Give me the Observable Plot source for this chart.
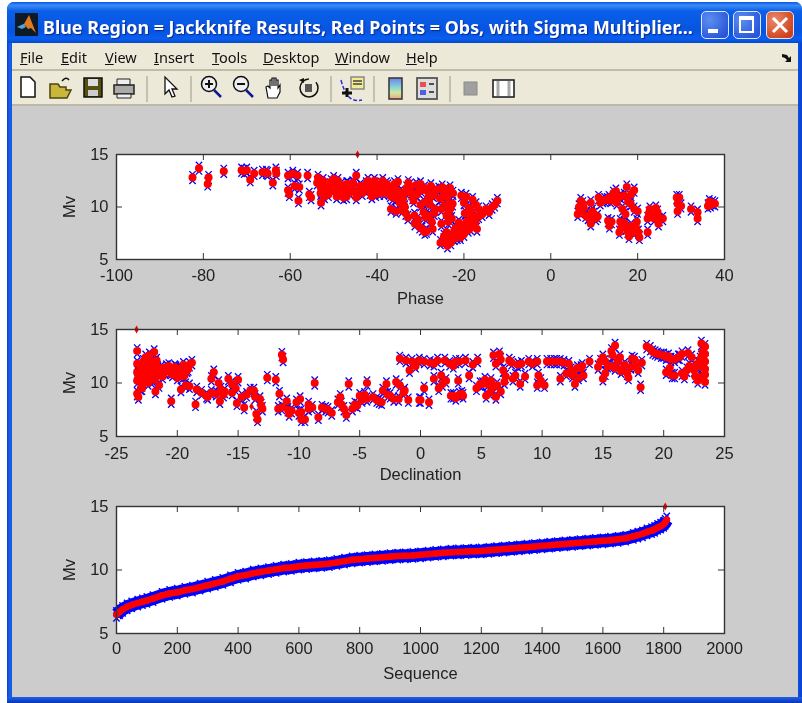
<!DOCTYPE html>
<html><head><meta charset="utf-8">
<script src="https://cdn.jsdelivr.net/npm/d3@7"></script>
<script src="https://cdn.jsdelivr.net/npm/@observablehq/plot@0.6"></script>
<style>
html,body{margin:0;padding:0;background:#fff;overflow:hidden}
#win{position:absolute;left:0;top:0;width:802px;height:703px;overflow:hidden;filter:blur(.35px)}
.a{position:absolute}
#frame{left:7px;top:2px;width:795px;height:701px;background:linear-gradient(90deg,#0a3fd0 0,#1c62ea 3px,#0d55e0 5px,#0d55e0 790px,#0a3fd0 795px);border-radius:7px 7px 0 0}
#titlebar{left:7px;top:2px;width:795px;height:41px;border-radius:7px 7px 0 0;background:linear-gradient(180deg,#0a58e6 0,#3a8cf6 8%,#0a5fe8 22%,#0654e0 70%,#0a5ef0 90%,#0448c8 100%)}
#title{left:43px;top:14px;font:700 17.9px/26px "Noto Sans",sans-serif;color:#fff;white-space:nowrap;text-shadow:1px 1px 1px #0a2a90}
#menu{left:12px;top:43px;width:786px;height:28px;background:#ece9d8;border-bottom:2px solid #c0bcaa;box-sizing:border-box}
#tools{left:12px;top:71px;width:786px;height:35px;background:#ece9d8;border-bottom:2px solid #bdb9a8;box-sizing:border-box}
#fig{left:12px;top:106px;width:786px;height:591px;background:#cccccc}
#bottom{left:7px;top:697px;width:795px;height:6px;background:linear-gradient(180deg,#1c62ea,#0a34b0)}
.m{position:absolute;top:46px;font:14.5px/22px "Noto Sans",sans-serif;color:#111}
.btn{position:absolute;top:11px;width:28px;height:28px;border:1px solid #dfe8fb;border-radius:5px;box-sizing:border-box;background:radial-gradient(circle at 30% 30%,#5b8ff0,#2a55d8 80%)}
.sep{position:absolute;top:76px;width:2px;height:26px;background:#c5c1b0}
.ic{position:absolute;top:72px}
.panel{position:absolute;left:60px;overflow:visible}
</style></head><body>
<div id="win">
<div class="a" id="frame"></div><div class="a" id="titlebar"></div>
<svg class="a" style="left:15px;top:13px" width="23" height="23" viewBox="0 0 23 23"><rect width="23" height="23" fill="#0c1a2a"/><path d="M2 14l7-3 5-9 7 18-5-5-3 1-3-4z" fill="#e07a20"/><path d="M2 14l7-3 2 3-4 2z" fill="#4aa8d8"/></svg>
<div class="a" id="title">Blue Region = Jackknife Results, Red Points = Obs, with Sigma Multiplier...</div>
<div class="btn" style="left:701px"><div class="a" style="left:6px;top:17px;width:10px;height:4px;background:#fff"></div></div>
<div class="btn" style="left:733px"><div class="a" style="left:5px;top:4px;width:15px;height:17px;border:2px solid #fff;border-top-width:4px;box-sizing:border-box"></div></div>
<div class="btn" style="left:766px;background:radial-gradient(circle at 30% 30%,#e88a6a,#d0401a 80%)"><svg class="a" style="left:4px;top:4px" width="18" height="18"><path d="M2 2L16 16M16 2L2 16" stroke="#fff" stroke-width="3"/></svg></div>
<div class="a" id="menu"></div><div class="a" id="tools"></div><div class="a" id="fig"></div><div class="a" id="bottom"></div>
<div class="m" style="left:20px"><u>F</u>ile</div><div class="m" style="left:61px"><u>E</u>dit</div><div class="m" style="left:105px"><u>V</u>iew</div><div class="m" style="left:154px"><u>I</u>nsert</div><div class="m" style="left:212px"><u>T</u>ools</div><div class="m" style="left:263px"><u>D</u>esktop</div><div class="m" style="left:335px"><u>W</u>indow</div><div class="m" style="left:406px"><u>H</u>elp</div>
<svg class="a" style="left:781px;top:52px" width="12" height="11"><path d="M1 2l5 1 2 3 2-2v6H4l2-2-2-2-3-1z" fill="#111"/></svg>
<div class="sep" style="left:146px"></div><div class="sep" style="left:190px"></div><div class="sep" style="left:330px"></div><div class="sep" style="left:373px"></div><div class="sep" style="left:449px"></div>
<svg class="ic" style="left:0;top:70px" width="530" height="34">
<path d="M21 7h9l5 5v15H21z" fill="#fff" stroke="#111" stroke-width="1.5"/>
<path d="M50 14h8l2 3h6v3h5l-4 8H50z" fill="#c9b63a" stroke="#4a4410" stroke-width="1.5"/><path d="M62 11q4-5 7-1" fill="none" stroke="#111" stroke-width="1.5"/>
<rect x="84" y="8" width="18" height="19" fill="#55500f" stroke="#111" stroke-width="1.5"/><rect x="88" y="9" width="10" height="7" fill="#ddd"/><rect x="88" y="20" width="10" height="6" fill="#ccc"/>
<path d="M117 9h13v6h-13z" fill="#eee" stroke="#222"/><path d="M114 15h20v9h-20z" fill="#aaa" stroke="#222" stroke-width="1.5"/><path d="M117 24h14v4h-14z" fill="#eee" stroke="#222"/>
<path d="M165 7v17l4-4 3 7 3-1-3-7h5z" fill="#fff" stroke="#111" stroke-width="1.3"/>
<circle cx="209" cy="14" r="7.5" fill="#eee" stroke="#111" stroke-width="1.5"/><path d="M205 14h8M209 10v8" stroke="#111" stroke-width="2"/><path d="M214 20l7 7" stroke="#0a1a90" stroke-width="2.5"/>
<circle cx="241" cy="14" r="7.5" fill="#eee" stroke="#111" stroke-width="1.5"/><path d="M237 14h8" stroke="#111" stroke-width="2"/><path d="M246 20l7 7" stroke="#0a1a90" stroke-width="2.5"/>
<path d="M266 17l2-1 2 2v-8h2v6-8h2v8-8h2v8-6h2v8l2-3v7l-3 6h-9z" fill="#fff" stroke="#111" stroke-width="1.2"/>
<circle cx="309" cy="18" r="9" fill="none" stroke="#111" stroke-width="1.5" stroke-dasharray="42 8"/><rect x="305" y="14" width="7" height="8" fill="#555"/><path d="M299 10l5-2v5z" fill="#111"/>
<rect x="351" y="7" width="13" height="12" fill="#f2eb90" stroke="#888" stroke-width="1.5"/><path d="M353 11h9M353 14h9" stroke="#444" stroke-width="1.3"/>
<path d="M341 10q3 12 8 17t13 3" fill="none" stroke="#2a2ae0" stroke-width="1.5" stroke-dasharray="4 2"/><path d="M347 18v9M342 23h10" stroke="#111" stroke-width="3"/>
<defs><linearGradient id="cb" x1="0" y1="0" x2="0" y2="1"><stop offset="0" stop-color="#7080e8"/><stop offset=".4" stop-color="#80d0d8"/><stop offset=".7" stop-color="#d0e8a0"/><stop offset="1" stop-color="#f0a080"/></linearGradient></defs>
<rect x="389" y="8" width="13" height="21" fill="url(#cb)" stroke="#333" stroke-width="1.5"/>
<rect x="417" y="8" width="20" height="21" fill="#ddd" stroke="#555" stroke-width="1.8"/><rect x="420" y="12" width="6" height="5" fill="#e85050"/><rect x="420" y="20" width="6" height="5" fill="#5060e0"/><path d="M429 14h5M429 22h5" stroke="#222" stroke-width="1.5"/>
<rect x="464" y="12" width="13" height="13" fill="#a0a0a0" stroke="#8a8a8a"/>
<rect x="493" y="10" width="21" height="17" fill="#fff" stroke="#222" stroke-width="1.6"/><path d="M498 11v15M509 11v15" stroke="#aaa" stroke-width="3"/>
</svg>
<div id="p1" class="panel" style="top:140px"></div>
<div id="p2" class="panel" style="top:315px"></div>
<div id="p3" class="panel" style="top:492px"></div>
</div>
<script>
const phase = [
-82.5,-81,-78.8,-79,-75.3,-71.2,-70.6,-70,-69.2,-68.3,-66.4,-65.5,-65.2,-63.3,-63.2,-64,
-60.5,-59.4,-58.3,-56,-53.6,-60.5,-60.2,-59,-57.9,-58.1,-55.6,-55.2,-52.9,
-53.8,-52.8,-52.4,-52.1,-51.4,-51.2,-50.6,-50.2,-50,-49.3,-49,-48.8,-48.2,-47.7,-47.5,-46.8,-46.2,-46,-45.4,-44.8,-44.8,-44.2,-43.8,-43.4,-42.9,-42.5,-42.1,-41.6,-41,-40.6,-40.3,-39.8,-39.2,-38.7,-38.4,-38,-37.5,-37,-36.6,-36.4,-36.8,-36,-35.2,-35,-34.8,-34.3,-33.6,-33.2,-32.8,-32.5,-32.9,-32,-31.6,-31.3,-31,-30.4,-30.2,-30,-29.6,-29.3,-29,-28.6,-28.2,-28,-27.6,-27.2,-26.8,-30,-29,-28,-27.2,
-25.8,-25.5,-25,-25.2,-24.8,-24.2,-24,-23.5,-23.2,-23,-22.5,-22.6,-25.2,-25.4,-24.6,-23.8,-23,-22.2,-21.5,-20.8,-20,-19.3,-18.5,-17.8,-17,-17.4,-18.5,-19.4,-20,
-20.6,-20,-19.5,-18.8,-18,-17.2,-16.6,-19.8,-18.4,-17.5,-15.8,-14.9,-14.2,-13.5,-12.9,-12.3,
6.5,6.2,6.9,6.6,9.2,9.6,10.4,9.2,10,8.8,12,13,13.8,14.6,15.4,16.1,16.9,17.5,18.5,19.2,17.8,16.5,19.2,18.4,20,13.5,13.2,14,15.8,16.9,17.7,19.2,18.5,20.4,22.3,22.3,23.1,24.6,23.8,24.8,25.8,22.6,29.2,29.2,29,32.3,33.8,33.8,36.2,37.3,36.8,
-53,-53,-51.6,-50.8,-49.6,-48.4,-47,-47,-45.6,-45,-43.6,-42.6,-41.4,-41.2,-40,-39.4,-38.8,-37.8,-37.2,-36.2,-35.6,-35.4,-35.6,-34.6,-34,-33.8,-33.2,-33.4,-32.4,-31.8,-31.4,-30.8,-30.6,-29.8,-29.2,-28.8,-28.4,-27.8,-27.4,-27,-26.6,-26.5,
-24.4,-23.8,-23.4,-22.8,-24.6,-24,-24.2,-22.2,-21.6,-21,-20.4,-19.6,-19,-18.2,-17.4,-16.6,-23.6,-22.8,-21.9,-21.2,
8,7.4,7.6,10.8,9.4,8.6,11,11.4,12.4,13.4,14.4,15,15.2,16,17,17.4,19.6,18,16.2,17.2,20.2,19.8,23,22.8,24.2,25,29.6,30,36.5,37.8];
const phaseMv = [
12.8,13.7,12.8,12.2,13.4,13.5,13.4,13.5,12.6,13.2,13.3,13.3,13.2,13.5,13.2,12.3,
13,13.2,13,13,12.8,11.6,11.2,12,11.9,10.6,11.2,10.9,10.4,
12.3,11.6,12.5,11,12,11.2,12.4,11.6,12.7,11,12.5,11.7,12.1,10.9,11.6,12.2,11.4,11.9,12.2,13,10.9,11.5,12,11.3,11.7,12.2,12.5,11.4,12.1,12.5,11.2,11.8,12.2,12.5,11.3,11.6,12,11.1,11.7,10.9,9.8,12.2,12.4,11.2,10.4,9.7,10,11.8,12.3,12,9,11.3,10.6,8.4,12.1,11.5,8.1,10.2,7.9,9.5,11.8,7.7,10.9,9.2,12,11.2,9.4,12.2,7.6,10.6,7.9,
11.7,10.8,11.9,9.8,11,11.6,9.2,10.4,11.8,9.9,11.3,10.3,8.4,6.6,6.9,6.3,6.6,7,7.1,7.1,7.4,8,8,8.2,7.9,8.6,9,8.6,7.9,
11.1,10.4,11,9.9,10.7,10.2,9.8,9.4,9.6,9.1,9.3,9.8,9.5,10,10.2,10.6,
10,9.3,10.6,9.6,10.4,9.6,8.9,8.4,9.3,9.1,10.6,10.7,10.6,11,10.8,11,11.1,11.9,11.2,11.6,10.5,9.8,9.8,10.3,9.6,8.2,8.7,8.6,7.6,8.5,7.7,7.6,8.2,7.1,7.6,8.9,9.5,9.5,8.9,8.4,8.9,9.4,10.3,9.6,10.9,9.8,9.5,8.9,10.1,10.4,10.2,
11.9,11.3,11.4,12.1,11.9,11.2,12.2,11,12.3,11.4,11.8,11.7,11.8,11,11.6,11.3,11.8,12.2,11.4,11.2,10.8,11.6,9.6,11.4,10.8,10.2,11.4,9.4,11.6,10.9,9.2,11.2,8.8,11.6,10.4,9,11.5,10.2,8.6,11.1,9.8,11.6,
10.2,11,9.6,8.9,7.2,7.6,6.8,7.8,7.6,7.3,8.1,8.4,7.8,8.4,8.6,9.1,8.6,7.2,8,8.5,
9.2,10.3,9.9,9.1,9.4,9,10.9,10.4,10.7,10.9,11.3,11.5,10.4,8.6,8.3,8,8.1,7.2,8,9.3,7.6,8.6,9.3,9.8,9.9,8.8,10.9,10.1,10.5,10.3];
const phaseSmall = [-44.5], phaseSmallMv = [15];

const declination = [
-23.3,-23.3,-23.3,-23.3,-23.3,-23.2,-23,-22.9,-22.8,-22.7,-22.6,-22.5,-22.4,-22.3,-22.2,-22.1,-22,-21.9,-21.9,-21.8,-21.7,-21.6,-21.5,-21.8,-22.4,-22.9,
-21.3,-21,-20.7,-20.4,-20.2,-20,-19.8,-19.5,-19.2,-19,-18.8,-21.2,-20.6,-20,-19.6,-19.7,-19.3,-19,-20.5,-18.5,-18.4,-18,-17.6,-17.5,-17,-17.2,-16.8,-16.6,-16.5,-16.4,-16.1,-15.8,-15.5,-15.5,-15,-15.1,-14.7,-14.5,-14,-13.7,-13.5,-13.4,-13.2,-13,-12.6,-11.9,-11.6,-11.7,-11.4,-11.4,-11,-10.8,-10.6,-10.2,-9.9,-9.8,-9.8,-9.5,-9.2,-9.2,-8.7,-8.4,-8.1,-7.8,-7.3,-6.8,-6.6,-6.3,-6.1,-5.9,-5.6,-5.4,-5,-4.8,-4.4,-4.4,-3.9,-3.6,-3.2,-3.1,-2.8,-2.5,-2.2,-2,-1.8,-1.7,-1.3,-1,-1.7,-1.2,-0.7,-0.9,-0.5,-0.1,-0.1,
0.3,0.3,0,0.7,1.1,1.1,1.5,2,2.1,1.7,2.7,3.2,2.7,3.2,3.5,3.1,4,4.3,4.7,4.6,5.3,5.5,5.7,6,6.5,6.2,6.6,6.2,6.8,6.9,7.3,7.8,8.2,8.3,8.9,9.6,9.7,9.6,10.2,10.4,11,11.5,11.5,12.2,12.5,12.7,13,13.4,13.3,13.9,14.6,15,15,15.8,16,15.6,16.4,16,16.6,17.1,17.4,17.7,18.2,18.1,18.6,19.1,19.5,20,20.4,20.2,20.7,20.6,21.5,21.5,21.9,22.3,22.6,22.8,23.1,23.4,23.4,23.4,23.4,23.4,23.4,23.1,23.1,23.1,22.9,
-23.2,-23,-22.8,-22.6,-22.4,-22.2,-22,-21.8,-21.6,-22.9,-22.5,-22.1,-21.7,-21.4,-20.9,-20.5,-20.1,-19.7,-19.4,-19.1,-17.2,-16.2,-15.2,-14.3,-13.6,-13.1,-11.3,-10.9,-10,-8.9,-7.6,-6.5,-5.2,-4.6,-3.4,-2.7,-1.4,-0.4,
0.8,1.4,2.4,2.9,3.7,1.8,2.5,2.9,3.4,4.9,5.1,5.9,6.3,5.4,5.8,6.6,7,7.5,7.6,8,8.6,9.2,9.9,10.7,11.2,11.8,12,12.4,12.6,12.9,13.2,
14.8,15.2,15.4,15.2,15.7,16.2,16.5,16.8,17,17.3,17.6,17.9,18.9,19.3,19.8,20.2,20.5,20.9,21.2,21.7,22.1,22,22.5,22.8,23,23.2,22.6,21.3,20.9];
const declinationMv = [
13,11.8,11,10.2,9,8.7,11.5,10.3,12,11,12.4,10.2,11.6,12.6,10.8,12,11.2,12.9,10.4,11.6,10.6,11.2,9.8,9.2,10,9.5,
11.4,11,11.6,10.8,11.5,10.9,11.3,11.7,11.2,11.7,11.9,10.6,11.1,10.5,10.6,9.4,9.8,9.7,8.3,8,9.4,9.1,8.8,8.7,11,10.4,9,10,8.3,9.4,9.2,10.4,9.9,9.1,10.3,8.1,8.7,7.7,9.3,9.3,7.1,6.6,8.5,7.6,10.5,10.3,9,7.6,7.7,12.65,8.3,7.1,7.4,8.2,8.5,7.3,6.6,6.6,8,7.6,10,6.8,7.7,7.6,7.2,8.2,8.7,7.6,7,9.9,7.6,8,8.8,8.4,10,8.5,8.7,8.4,8.2,9.3,9.9,8.8,8.5,10.1,8.5,9.8,9.3,8.4,12.3,12.1,12,11.2,11.8,8.4,12.1,
12,9.5,8.4,8.2,11.8,10.4,9.5,12.1,10.2,10.7,11.6,12,8.8,8.9,8.8,10.2,10.7,11.7,12.1,9.5,10.3,9.9,9.1,12.6,12.7,8.7,9.2,11.8,11.2,10.1,12.1,10.7,9.9,11.8,12,12,10.7,9.8,9.8,12,12,10.4,12,11.8,10.7,9.9,10.5,10.7,11.6,12,11.5,10.4,12.4,12.6,13.5,11.6,12.4,11.4,11.3,10.5,12.3,11.6,11.9,9.6,13.4,12.9,12.7,12.6,12.5,11,10.7,12.2,12.7,10.9,11.2,12.4,11.6,10.2,13.7,13.4,12.7,12,11.3,10.8,10.1,12.4,11.5,10.6,11.8,
10.6,9.5,11.6,10.6,11.9,11.3,10.3,11.9,11.4,9.8,10.9,10.6,12.1,10.9,11.5,11,11.4,11.3,10.7,11.3,9.1,8.9,9.5,8.9,8.7,7.9,12.2,7.5,7.2,7.7,7.5,8,7.9,8.9,8.3,8.9,9.1,11.6,
11.9,12.1,11.8,12,12.1,9.9,8.8,8.6,9,9.9,9.9,9.5,9.8,8.8,10.2,12.2,10.6,11.9,10.4,11.7,10.6,11.8,10.2,12,12,11.9,10.9,11.2,11.1,11.4,11.4,
12,10.9,11.6,12,13,12,11.1,11.7,10.9,11.5,12.2,11.2,13.2,12.8,12.6,12.4,11.4,10.7,12.4,10.6,11.6,12.8,11.2,11.8,12.2,12.9,10.6,12.4,12.2];
const declinationSmall = [-23.35,-13.9], declinationSmallMv = [15,7.8];

const sequence = [0,10,20,35,50,70,85,100,120,150,175,200,225,250,275,300,325,350,375,400,425,450,475,500,525,550,575,600,625,650,675,700,725,750,775,800,825,850,875,900,925,950,975,1000,1025,1050,1075,1100,1125,1150,1175,1200,1225,1250,1275,1300,1325,1350,1375,1400,1425,1450,1475,1500,1525,1550,1575,1600,1625,1650,1675,1700,1715,1730,1745,1760,1770,1780,1790,1800,1805,1810];
const sequenceMv = [6.5,6.7,6.9,7.1,7.25,7.4,7.5,7.6,7.75,8,8.15,8.25,8.4,8.5,8.65,8.8,8.95,9.1,9.3,9.5,9.6,9.75,9.85,9.95,10.05,10.15,10.2,10.3,10.35,10.4,10.45,10.5,10.6,10.7,10.8,10.85,10.9,10.95,11,11.05,11.1,11.12,11.15,11.2,11.25,11.3,11.35,11.4,11.42,11.45,11.48,11.5,11.55,11.6,11.65,11.7,11.75,11.8,11.85,11.9,11.95,12,12.05,12.1,12.15,12.2,12.25,12.3,12.35,12.42,12.5,12.65,12.75,12.85,13,13.1,13.2,13.35,13.45,13.6,13.75,13.95];
const sequenceSmall = [1805], sequenceSmallMv = [15];

const phaseTicks = [-100,-80,-60,-40,-20,0,20,40];
const declinationTicks = [-25,-20,-15,-10,-5,0,5,10,15,20,25];
const sequenceTicks = [0,200,400,600,800,1000,1200,1400,1600,1800,2000];
const mvTicks = [5,10,15];
const jackknifeSpread = 0.31;

function table(xs, ys){ return xs.map((x,i)=>({x, y:ys[i]})); }

function panel(id, xs, ys, sx, sy, ticks, label, innerH, o){
  const w = 608, marginTop = 14;
  const pts = table(xs, ys), small = table(sx, sy);
  const dx = ticks[ticks.length-1]-ticks[0];
  const tickX = 6/w*dx, tickY = 6/innerH*10;
  const inner = ticks.slice(1,-1), innerY = [10];
  const axisColor = "#333";
  const chart = Plot.plot({
    width: 700, height: marginTop+innerH+56,
    marginLeft:56, marginRight:36, marginTop, marginBottom:56,
    style:{background:"transparent",fontFamily:"'Liberation Sans',Arial,sans-serif",fontSize:"16.5px",color:"#222",overflow:"visible"},
    x:{domain:[ticks[0],ticks[ticks.length-1]]},
    y:{domain:[5,15]},
    marks:[
      Plot.frame({fill:"#fff"}),
      o.band ? Plot.line(pts,{x:"x",y:"y",stroke:"#0000ff",strokeWidth:o.band,strokeLinecap:"butt"}) : null,
      Plot.dot(pts,{x:"x",y:d=>d.y+jackknifeSpread,symbol:"times",r:o.r,stroke:"#0000ff",strokeWidth:o.sw}),
      Plot.dot(pts,{x:"x",y:d=>d.y-jackknifeSpread,symbol:"times",r:o.r,stroke:"#0000ff",strokeWidth:o.sw}),
      o.redBand ? Plot.line(pts,{x:"x",y:"y",stroke:"#ff0000",strokeWidth:o.redBand}) : null,
      Plot.dot(pts,{x:"x",y:"y",r:o.red,fill:"#ff0000"}),
      Plot.dot(small,{x:"x",y:"y",symbol:"diamond",r:2.4,fill:"#f00000"}),
      Plot.ruleX(inner,{y1:5,y2:5+tickY,stroke:axisColor}),
      Plot.ruleX(inner,{y1:15,y2:15-tickY,stroke:axisColor}),
      Plot.ruleY(innerY,{x1:ticks[0],x2:ticks[0]+tickX,stroke:axisColor}),
      Plot.ruleY(innerY,{x1:ticks[ticks.length-1],x2:ticks[ticks.length-1]-tickX,stroke:axisColor}),
      Plot.frame({stroke:axisColor,strokeWidth:1.4}),
      Plot.axisX(ticks,{anchor:"bottom",tickSize:0,tickPadding:o.pad,tickFormat:d=>String(d),label,labelAnchor:"center",labelArrow:"none",labelOffset:o.lab}),
      Plot.axisY(mvTicks,{anchor:"left",tickSize:0,tickPadding:8,tickFormat:d=>String(d),label:"Mv",labelAnchor:"center",labelArrow:"none",labelOffset:53})
    ]
  });
  document.getElementById(id).appendChild(chart);
}
panel("p1",phase,phaseMv,phaseSmall,phaseSmallMv,phaseTicks,"Phase",105,{r:3,sw:1.3,red:4,pad:10,lab:44});
panel("p2",declination,declinationMv,declinationSmall,declinationSmallMv,declinationTicks,"Declination",107,{r:3,sw:1.3,red:4,pad:11,lab:43});
panel("p3",sequence,sequenceMv,sequenceSmall,sequenceSmallMv,sequenceTicks,"Sequence",127,{r:3,sw:1.4,red:3.3,pad:9,lab:45,band:13,redBand:6.5});
</script>
</body></html>
